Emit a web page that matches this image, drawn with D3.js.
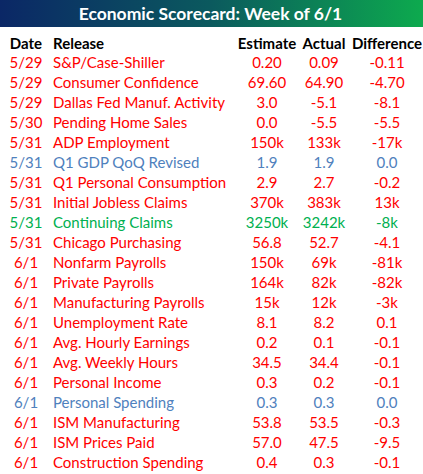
<!DOCTYPE html>
<html>
<head>
<meta charset="utf-8">
<script src="https://cdn.jsdelivr.net/npm/d3@7"></script>
<style>
  html, body { margin: 0; padding: 0; background: #fff; }
  svg { display: block; }
  text { font-family: Lato, "Open Sans", sans-serif; }
</style>
</head>
<body>
<svg id="chart"></svg>
<script>
// data
var title = "Economic Scorecard: Week of 6/1";
var headers = ["Date", "Release", "Estimate", "Actual", "Difference"];
var dates = ["5/29", "5/29", "5/29", "5/30", "5/31", "5/31", "5/31", "5/31", "5/31", "5/31",
  "6/1", "6/1", "6/1", "6/1", "6/1", "6/1", "6/1", "6/1", "6/1", "6/1", "6/1"];
var releases = ["S&P/Case-Shiller", "Consumer Confidence", "Dallas Fed Manuf. Activity",
  "Pending Home Sales", "ADP Employment", "Q1 GDP QoQ Revised", "Q1 Personal Consumption",
  "Initial Jobless Claims", "Continuing Claims", "Chicago Purchasing", "Nonfarm Payrolls",
  "Private Payrolls", "Manufacturing Payrolls", "Unemployment Rate", "Avg. Hourly Earnings",
  "Avg. Weekly Hours", "Personal Income", "Personal Spending", "ISM Manufacturing",
  "ISM Prices Paid", "Construction Spending"];
var estimates = ["0.20", "69.60", "3.0", "0.0", "150k", "1.9", "2.9", "370k", "3250k", "56.8",
  "150k", "164k", "15k", "8.1", "0.2", "34.5", "0.3", "0.3", "53.8", "57.0", "0.4"];
var actuals = ["0.09", "64.90", "-5.1", "-5.5", "133k", "1.9", "2.7", "383k", "3242k", "52.7",
  "69k", "82k", "12k", "8.2", "0.1", "34.4", "0.2", "0.3", "53.5", "47.5", "0.3"];
var differences = ["-0.11", "-4.70", "-8.1", "-5.5", "-17k", "0.0", "-0.2", "13k", "-8k", "-4.1",
  "-81k", "-82k", "-3k", "0.1", "-0.1", "-0.1", "-0.1", "0.0", "-0.3", "-9.5", "-0.1"];
// miss = worse than expected, inline = as expected, beat = better
var outcomes = ["miss", "miss", "miss", "miss", "miss", "inline", "miss", "miss", "beat", "miss",
  "miss", "miss", "miss", "miss", "miss", "miss", "miss", "inline", "miss", "miss", "miss"];

var W = 423, H = 474;

var svg = d3.select("#chart").attr("width", W).attr("height", H);

// title bar with gradient
var grad = svg.append("defs").append("linearGradient")
  .attr("id", "titleGrad")
  .attr("x1", "0%").attr("x2", "100%");
grad.append("stop").attr("offset", "0%").attr("stop-color", "#0b2766");
grad.append("stop").attr("offset", "50%").attr("stop-color", "#0b5a5e");
grad.append("stop").attr("offset", "100%").attr("stop-color", "#0daa4e");

svg.append("rect")
  .attr("width", W).attr("height", 27)
  .attr("fill", "url(#titleGrad)");

svg.append("text")
  .attr("x", W / 2 - 1).attr("y", 14)
  .attr("dy", "0.35em")
  .attr("text-anchor", "middle")
  .attr("fill", "#fff")
  .style("font-size", "17.5px")
  .style("font-weight", "bold")
  .text(title);

// rows
var rows = dates.map(function(d, i){
  return {
    cells: [d, releases[i], estimates[i], actuals[i], differences[i]],
    outcome: outcomes[i]
  };
});

var y = d3.scalePoint()
  .domain(d3.range(rows.length))
  .range([63, 463]);

var colour = d3.scaleOrdinal()
  .domain(["miss", "inline", "beat"])
  .range(["#ff0000", "#4f81bd", "#00b050"]);

// column x and anchor
var cols = [
  {x: 26, anchor: "middle"},
  {x: 53, anchor: "start"},
  {x: 267, anchor: "middle"},
  {x: 324, anchor: "middle"},
  {x: 387, anchor: "middle"}
];

svg.append("g").attr("class", "header")
  .selectAll("text")
  .data(headers)
  .enter().append("text")
    .attr("x", function(d, i){ return cols[i].x; })
    .attr("y", y(0) - 19)
    .attr("dy", "0.35em")
    .attr("text-anchor", function(d, i){ return cols[i].anchor; })
    .attr("fill", "#000")
    .style("font-size", "15px")
    .style("font-weight", "bold")
    .text(function(d){ return d; });

var row = svg.append("g").attr("class", "rows")
  .selectAll("g")
  .data(rows)
  .enter().append("g")
    .attr("transform", function(d, i){ return "translate(0," + y(i) + ")"; })
    .attr("fill", function(d){ return colour(d.outcome); });

row.selectAll("text")
  .data(function(d){ return d.cells; })
  .enter().append("text")
    .attr("x", function(d, i){ return cols[i].x; })
    .attr("dy", "0.35em")
    .attr("text-anchor", function(d, i){ return cols[i].anchor; })
    .style("font-size", "15px")
    .text(function(d){ return d; });
</script>
</body>
</html>
